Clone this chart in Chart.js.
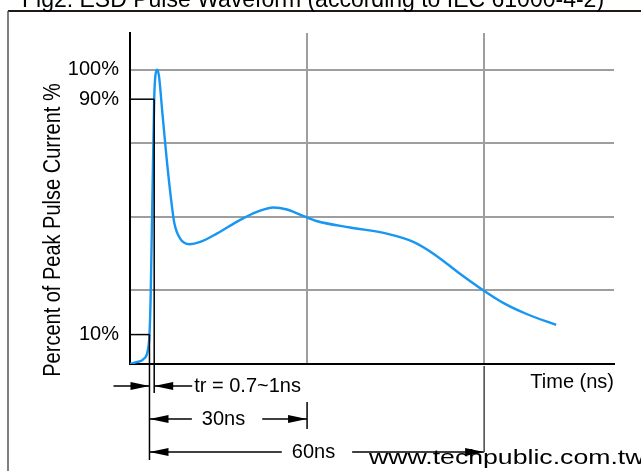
<!DOCTYPE html>
<html>
<head>
<meta charset="utf-8">
<script src="https://cdn.jsdelivr.net/npm/chart.js@4/dist/chart.umd.min.js"></script>
<style>
  html, body { margin: 0; padding: 0; background: #fff; }
  canvas { display: block; }
</style>
</head>
<body>
<canvas id="esdChart" width="641" height="471" style="width:641px;height:471px"></canvas>
<script>
// waveform (time in ns, current in % of peak)
const timeNs = [0, 1.1, 2.3, 3.0, 3.3, 3.5, 3.8, 4.1, 4.3, 4.6, 4.9, 5.5, 6.2, 6.9, 7.5, 8.5, 10.1, 11.9, 14.7, 18.6,
    21.5, 24.3, 26.6, 28.8, 31.6, 37.3, 43.5, 48.0, 51.4, 55.9, 59.9, 63.3, 67.2, 72.2];
const currentPct = [0, 0.6, 1.7, 4.5, 10, 23, 57, 90, 98, 100, 98, 85, 70, 57, 48, 42.6, 40.7, 41.5, 44.3, 48.9,
    51.7, 53.2, 52.5, 50.8, 48.6, 46.4, 44.3, 41.5, 37.5, 30.7, 25, 20.7, 17, 13.3];

const xTicks = [0, 30, 60];
const yTicks = [0, 10, 25, 50, 75, 90, 100];
const yGridValues = [25, 50, 75, 100];
const yLabelValues = [10, 90, 100];

// 10% / 90% rise markers
const markerPct = [10, 90];
const markerTimeNs = [3.3, 4.1];

// dimension arrows under the axis
const trLabel = "tr = 0.7~1ns";
const dimFrom = [3.3, 3.3];
const dimTo = [30, 60];
const dimLabels = ["30ns", "60ns"];

const titleText = "Fig2: ESD Pulse Waveform (according to IEC 61000-4-2)";
const yTitle = "Percent of Peak Pulse Current %";
const xTitle = "Time (ns)";
const siteText = "www.techpublic.com.tw";

const FONT = '"Liberation Sans", Arial, sans-serif';

function arrowHead(ctx, x, y, dir) {
    ctx.beginPath();
    ctx.moveTo(x, y);
    ctx.lineTo(x - dir * 19, y - 4);
    ctx.lineTo(x - dir * 19, y + 4);
    ctx.closePath();
    ctx.fill();
}

function line(ctx, x1, y1, x2, y2) {
    ctx.beginPath();
    ctx.moveTo(x1, y1);
    ctx.lineTo(x2, y2);
    ctx.stroke();
}

const annotations = {
    id: "annotations",
    afterDraw(chart) {
        const ctx = chart.ctx;
        const xs = chart.scales.x;
        const ys = chart.scales.y;
        const bottom = chart.chartArea.bottom;

        ctx.save();
        ctx.fillStyle = "#000";

        // frame
        ctx.strokeStyle = "#231815";
        ctx.lineWidth = 2;
        line(ctx, 8, 11, 641, 11);
        ctx.strokeStyle = "#555";
        ctx.lineWidth = 1.5;
        line(ctx, 8, 11, 8, 471);

        // title (cut off at the top)
        ctx.font = "23px " + FONT;
        ctx.textAlign = "left";
        ctx.textBaseline = "alphabetic";
        ctx.fillText(titleText, 22, 7);

        // y title
        ctx.save();
        ctx.translate(60, 230);
        ctx.rotate(-Math.PI / 2);
        ctx.scale(1, 1.15);
        ctx.font = "20px " + FONT;
        ctx.textAlign = "center";
        ctx.fillText(yTitle, 0, 0);
        ctx.restore();

        // 10% / 90% markers
        ctx.strokeStyle = "#000";
        ctx.lineWidth = 1.5;
        const x0 = xs.getPixelForValue(0);
        const ext = [96, 29];
        markerPct.forEach((p, i) => {
            const py = ys.getPixelForValue(p);
            const px = xs.getPixelForValue(markerTimeNs[i]);
            line(ctx, x0, py, px, py);
            line(ctx, px, py, px, bottom + ext[i]);
        });

        // tr arrows
        const xa = xs.getPixelForValue(markerTimeNs[0]);
        const xb = xs.getPixelForValue(markerTimeNs[1]);
        const yTr = bottom + 22;
        ctx.lineWidth = 1.3;
        line(ctx, xa - 36, yTr, xa, yTr);
        arrowHead(ctx, xa, yTr, 1);
        line(ctx, xb, yTr, xb + 38, yTr);
        arrowHead(ctx, xb, yTr, -1);
        ctx.font = "20px " + FONT;
        ctx.textBaseline = "middle";
        ctx.textAlign = "left";
        ctx.fillText(trLabel, xb + 40, yTr);

        // 30ns / 60ns spans
        const rowY = [bottom + 55, bottom + 88];
        const midFrac = [0.47, 0.49];
        dimLabels.forEach((label, i) => {
            const a = xs.getPixelForValue(dimFrom[i]);
            const b = xs.getPixelForValue(dimTo[i]);
            const y = rowY[i];
            const w = ctx.measureText(label).width;
            const c = a + (b - a) * midFrac[i];
            ctx.textAlign = "center";
            ctx.fillText(label, c, y);
            line(ctx, a, y, c - w / 2 - 10, y);
            arrowHead(ctx, a, y, -1);
            line(ctx, c + w / 2 + 17, y, b, y);
            arrowHead(ctx, b, y, 1);
        });
        ctx.lineWidth = 1.5;
        const x30 = xs.getPixelForValue(dimTo[0]);
        line(ctx, x30, bottom + 38, x30, bottom + 65);
        ctx.strokeStyle = "#444";
        const x60 = xs.getPixelForValue(dimTo[1]);
        line(ctx, x60, bottom + 2, x60, bottom + 88);

        // site text
        ctx.save();
        ctx.translate(369, 463.5);
        ctx.scale(1.3, 1);
        ctx.font = "20.5px " + FONT;
        ctx.textAlign = "left";
        ctx.textBaseline = "alphabetic";
        ctx.fillStyle = "#000";
        ctx.fillText(siteText, 0, 0);
        ctx.restore();

        ctx.restore();
    }
};

const points = timeNs.map((t, i) => ({ x: t, y: currentPct[i] }));

new Chart(document.getElementById("esdChart").getContext("2d"), {
    type: "line",
    data: {
        datasets: [
            {
                data: points,
                borderColor: "#1796f2",
                borderWidth: 2.4,
                pointRadius: 0,
                fill: false,
                cubicInterpolationMode: "monotone",
            },
        ],
    },
    options: {
        responsive: false,
        animation: false,
        layout: {
            padding: { top: 33, right: 27, left: 0, bottom: 0 },
        },
        plugins: {
            legend: { display: false },
            tooltip: { enabled: false },
            title: { display: false },
        },
        scales: {
            x: {
                type: "linear",
                min: 0,
                max: 82,
                afterBuildTicks: (scale) => {
                    scale.ticks = xTicks.map((v) => ({ value: v }));
                },
                afterFit: (scale) => {
                    scale.height = 107;
                },
                ticks: { display: false },
                grid: {
                    drawTicks: false,
                    lineWidth: 2,
                    color: (ctx) => (ctx.tick && ctx.tick.value === 0 ? "rgba(0,0,0,0)" : "#9e9e9e"),
                },
                border: { display: true, color: "#000", width: 2 },
                title: {
                    display: true,
                    text: xTitle,
                    align: "end",
                    color: "#000",
                    font: { family: FONT, size: 20 },
                    padding: { top: 0, bottom: 77 },
                },
            },
            y: {
                min: 0,
                max: 112.5,
                afterBuildTicks: (scale) => {
                    scale.ticks = yTicks.map((v) => ({ value: v }));
                },
                afterFit: (scale) => {
                    scale.width = 130;
                },
                ticks: {
                    padding: 11,
                    color: "#000",
                    font: { family: FONT, size: 20 },
                    callback: (v) => (yLabelValues.includes(v) ? v + "%" : ""),
                },
                grid: {
                    drawTicks: false,
                    lineWidth: 2,
                    color: (ctx) => (ctx.tick && yGridValues.includes(ctx.tick.value) ? "#9e9e9e" : "rgba(0,0,0,0)"),
                },
                border: { display: true, color: "#000", width: 2 },
            },
        },
    },
    plugins: [annotations],
});
</script>
</body>
</html>
